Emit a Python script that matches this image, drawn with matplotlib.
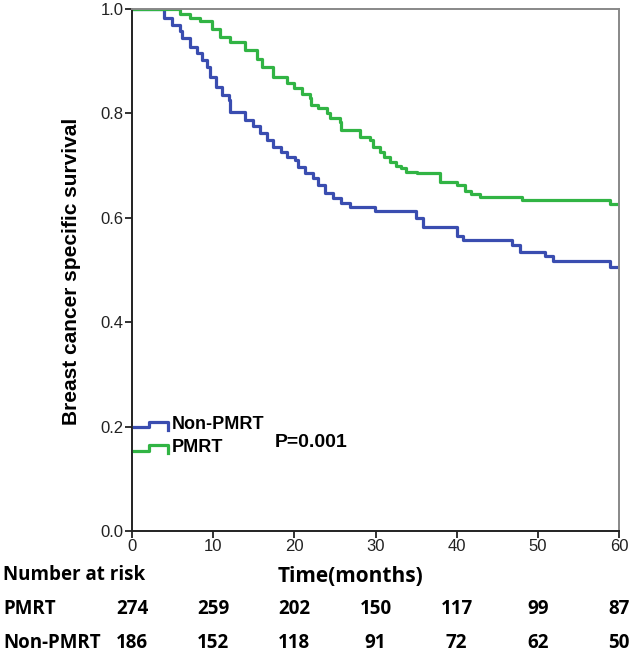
import numpy as np
import matplotlib
matplotlib.use("Agg")
import matplotlib.pyplot as plt
from matplotlib.lines import Line2D
from matplotlib.legend_handler import HandlerBase
from matplotlib.transforms import blended_transform_factory

# Kaplan-Meier steps (time in months, survival after the step)
t_non = [0, 3.9, 4.9, 5.9, 6.1, 7.1, 8.0, 8.6, 9.2, 9.6, 10.4, 11.05, 11.9, 12.1,
         13.9, 14.9, 15.8, 16.6, 17.4, 18.4, 19.1, 20.1, 20.5, 21.3, 22.3, 22.9,
         23.8, 24.8, 25.8, 26.9, 29.9, 35.0, 35.9, 40.0, 40.8, 46.8, 47.8, 50.9,
         51.9, 58.9, 60]
s_non = [1.0, 0.982, 0.969, 0.957, 0.944, 0.928, 0.915, 0.902, 0.889, 0.870, 0.851,
         0.835, 0.826, 0.803, 0.787, 0.775, 0.762, 0.749, 0.736, 0.727, 0.717, 0.711,
         0.698, 0.685, 0.676, 0.663, 0.647, 0.637, 0.628, 0.621, 0.613, 0.600, 0.582,
         0.566, 0.557, 0.547, 0.535, 0.526, 0.517, 0.506, 0.506]

t_pm = [0, 5.9, 7.1, 8.4, 9.9, 10.8, 12.1, 13.9, 15.4, 16.0, 17.4, 19.1, 19.9, 21.0,
        21.9, 22.1, 22.9, 24.0, 24.4, 25.6, 25.8, 28.1, 29.3, 29.7, 30.6, 31.0, 31.8,
        32.5, 33.2, 33.8, 35.1, 37.9, 40.0, 41.0, 41.8, 42.9, 48.0, 58.9, 60]
s_pm = [1.0, 0.990, 0.982, 0.977, 0.962, 0.947, 0.937, 0.921, 0.905, 0.889, 0.870,
        0.858, 0.848, 0.838, 0.829, 0.816, 0.810, 0.800, 0.791, 0.784, 0.768, 0.755,
        0.749, 0.736, 0.727, 0.717, 0.707, 0.700, 0.695, 0.688, 0.685, 0.669, 0.663,
        0.652, 0.645, 0.640, 0.634, 0.627, 0.627]

risk_times = [0, 10, 20, 30, 40, 50, 60]
risk_pmrt = [274, 259, 202, 150, 117, 99, 87]
risk_non = [186, 152, 118, 91, 72, 62, 50]

blue = "#3a4db0"
green = "#31b444"
W, H = 630, 657


class StepHandler(HandlerBase):
    def create_artists(self, legend, orig_handle, xdescent, ydescent,
                       width, height, fontsize, trans):
        xs = np.array([0, 0.45, 0.45, 1.0, 1.0]) * width - xdescent
        ys = np.array([0.15, 0.15, 0.6, 0.6, -0.05]) * height - ydescent
        ln = Line2D(xs, ys, color=orig_handle.get_color(),
                    lw=orig_handle.get_linewidth())
        ln.set_transform(trans)
        return [ln]


fig = plt.figure(figsize=(W / 100, H / 100), dpi=100)
ax = fig.add_axes([132 / W, 1 - 531 / H, 487 / W, 522 / H])

l1, = ax.step(t_non, s_non, where="post", color=blue, lw=2.3, label="Non-PMRT")
l2, = ax.step(t_pm, s_pm, where="post", color=green, lw=2.3, label="PMRT")

ax.set_xlim(0, 60)
ax.set_ylim(0, 1.0)
ax.set_xticks(risk_times)
ax.set_yticks(np.arange(0, 1.01, 0.2))
ax.set_yticklabels([f"{v:.1f}" for v in np.arange(0, 1.01, 0.2)])
for s in ["left", "bottom"]:
    ax.spines[s].set_color("#222222")
    ax.spines[s].set_linewidth(1.4)
for s in ["top", "right"]:
    ax.spines[s].set_color("#888888")
    ax.spines[s].set_linewidth(1.4)
ax.tick_params(direction="out", length=5, width=1.3, color="#222222",
               labelsize=12, labelcolor="#222222", pad=1)
for lab in ax.get_xticklabels() + ax.get_yticklabels():
    lab.set_family("Liberation Sans")

leg = ax.legend(handles=[l1, l2], loc="upper left",
                bbox_to_anchor=(0.004, 0.22), frameon=False,
                handler_map={Line2D: StepHandler()},
                handlelength=1.9, handletextpad=0.2, labelspacing=0.35,
                borderpad=0, borderaxespad=0,
                prop={"family": "Liberation Sans", "weight": "bold", "size": 13})

ax.text(0.294, 0.169, "P=0.001", transform=ax.transAxes, va="center", ha="left",
        fontsize=14, fontweight="bold", family="Liberation Sans")

fig.text(72 / W, 1 - 271 / H, "Breast cancer specific survival", rotation=90,
         ha="center", va="center", fontsize=15, fontweight="bold",
         family="Liberation Sans")

fig.text(350 / W, 1 - 576 / H, "Time(months)", ha="center", va="center",
         fontsize=15, fontweight="bold", family="Open Sans")

fig.text(3 / W, 1 - 575 / H, "Number at risk", ha="left", va="center",
         fontsize=13.5, fontweight="bold", family="Open Sans")
fig.text(3 / W, 1 - 609 / H, "PMRT", ha="left", va="center",
         fontsize=13.5, fontweight="bold", family="Open Sans")
fig.text(3 / W, 1 - 643 / H, "Non-PMRT", ha="left", va="center",
         fontsize=13.5, fontweight="bold", family="Open Sans")
tf = blended_transform_factory(ax.transData, fig.transFigure)
for t, a, b in zip(risk_times, risk_pmrt, risk_non):
    ax.text(t, 1 - 609 / H, str(a), transform=tf, ha="center", va="center",
            fontsize=13.5, fontweight="bold", family="Open Sans", clip_on=False)
    ax.text(t, 1 - 643 / H, str(b), transform=tf, ha="center", va="center",
            fontsize=13.5, fontweight="bold", family="Open Sans", clip_on=False)

fig.savefig("out.png", dpi=100)
